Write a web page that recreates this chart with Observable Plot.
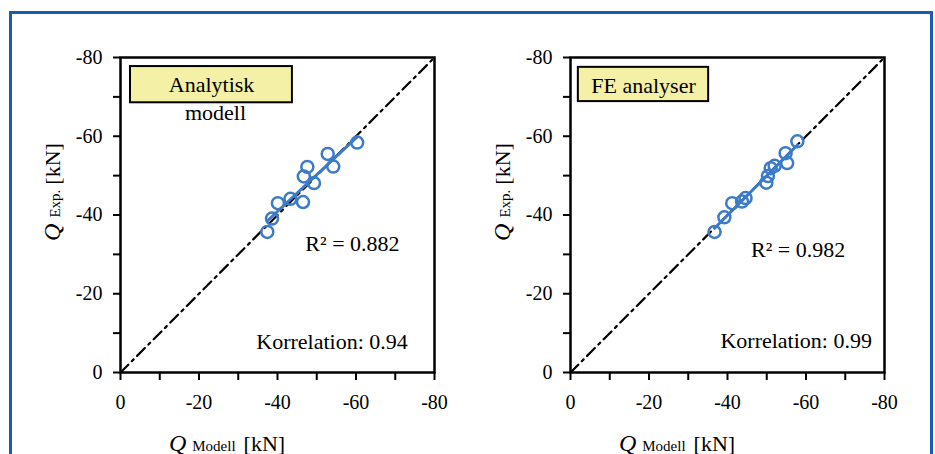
<!DOCTYPE html>
<html>
<head>
<meta charset="utf-8">
<script src="https://cdn.jsdelivr.net/npm/d3@7"></script>
<script src="https://cdn.jsdelivr.net/npm/@observablehq/plot@0.6"></script>
<style>
  html, body { margin: 0; padding: 0; background: #fff; }
  #wrap { position: relative; width: 935px; height: 454px; overflow: hidden; background: #fff; }
  #border { position: absolute; left: 9px; top: 11px; width: 918px; height: 470px; border: 3px solid #1a5cb0; }
  .panel { position: absolute; top: 0; }
  .panel svg text { font-family: "Liberation Serif", "Times New Roman", serif; }
</style>
</head>
<body>
<div id="wrap">
  <div id="border"></div>
  <div class="panel" id="p1" style="left:0px"></div>
  <div class="panel" id="p2" style="left:450px"></div>
</div>
<script>
// ---- data (kN) ----
const modellLeft = [-37.4, -38.6, -40.1, -43.3, -46.5, -46.7, -47.6, -49.3, -52.8, -54.2, -60.3];
const expLeft    = [-35.7, -39.1, -43.0, -44.1, -43.3, -49.8, -52.2, -48.1, -55.5, -52.3, -58.4];
const modellRight = [-36.7, -39.2, -41.2, -43.7, -44.6, -49.9, -50.3, -51.0, -52.0, -54.8, -55.2, -57.8];
const expRight    = [-35.7, -39.4, -43.0, -43.4, -44.3, -48.2, -49.9, -51.9, -52.5, -55.7, -53.2, -58.7];
const axisDomain = [0, -80];
const tickValues = [0, -10, -20, -30, -40, -50, -60, -70, -80];
const labelledTicks = [0, -20, -40, -60, -80];
const titleLeft = "Analytisk", subtitleLeft = "modell", titleRight = "FE analyser";
const r2Left = "R² = 0.882", r2Right = "R² = 0.982";
const corrLeft = "Korrelation: 0.94", corrRight = "Korrelation: 0.99";

const blue = "#3b7bc8";
const serif = '"Liberation Serif", "Times New Roman", serif';
const fmt = d => labelledTicks.includes(d) ? String(d) : "";

function panel(xs, ys, cfg) {
  const data = xs.map((x, i) => ({x, y: ys[i]}));
  const svg = Plot.plot({
    width: 450, height: 454,
    marginLeft: 120, marginRight: 16, marginTop: 57, marginBottom: 82,
    x: {domain: axisDomain},
    y: {domain: axisDomain},
    style: `font-family: ${serif}; font-size: 20px; color: black; background: transparent; overflow: visible;`,
    marks: [
      Plot.axisX({ticks: tickValues, tickFormat: fmt, tickSize: 8, tickPadding: 14, strokeWidth: 2, label: null, fontSize: 20}),
      Plot.axisY({ticks: tickValues, tickFormat: fmt, tickSize: 7, tickPadding: 11, strokeWidth: 2, label: null, fontSize: 20}),
      Plot.line(axisDomain, {x: d => d, y: d => d, stroke: "black", strokeWidth: 2.2, strokeDasharray: "11,5,2.5,5"}),
      Plot.linearRegressionY(data, {x: "x", y: "y", stroke: blue, strokeWidth: 3, ci: 0}),
      Plot.dot(data, {x: "x", y: "y", r: 6, stroke: blue, strokeWidth: 2.5, fill: "none"}),
      Plot.rect([cfg.box], {x1: "x1", x2: "x2", y1: "y1", y2: "y2", fill: "#f4f0a6", stroke: "black", strokeWidth: 2}),
      Plot.text(cfg.centered, {x: "x", y: "y", text: "t", textAnchor: "middle", lineAnchor: "bottom", fontSize: 22, fill: "black"}),
      Plot.text(cfg.left, {x: "x", y: "y", text: "t", textAnchor: "start", lineAnchor: "bottom", fontSize: 22, fill: "black"}),
      Plot.frame({stroke: "black", strokeWidth: 2.5})
    ]
  });
  const s = d3.select(svg);
  // y axis title
  const yt = s.append("text")
    .attr("transform", "translate(60,192) rotate(-90)")
    .attr("text-anchor", "middle")
    .attr("font-family", serif).attr("fill", "black");
  yt.append("tspan").attr("font-style", "italic").attr("font-size", 24).text("Q");
  yt.append("tspan").attr("font-size", 15).attr("dx", 6).text("Exp.");
  yt.append("tspan").attr("font-size", 22).attr("dx", 5).text("[kN]");
  // x axis title
  const xt = s.append("text")
    .attr("x", 227).attr("y", 451)
    .attr("font-family", serif).attr("fill", "black");
  xt.append("tspan").attr("font-style", "italic").attr("font-size", 24).text("Q");
  xt.append("tspan").attr("font-size", 15).attr("dx", 6).text("Modell");
  xt.append("tspan").attr("font-size", 22).attr("dx", 8).text("[kN]");
  return svg;
}

document.getElementById("p1").appendChild(panel(modellLeft, expLeft, {
  box: {x1: -2.55, x2: -43.8, y1: -77.7, y2: -68.5},
  centered: [
    {x: -23.2, y: -71.3, t: titleLeft},
    {x: -24.2, y: -64.2, t: subtitleLeft}
  ],
  left: [
    {x: -47.1, y: -30.8, t: r2Left},
    {x: -34.6, y: -5.9, t: corrLeft}
  ]
}));
document.getElementById("p2").appendChild(panel(modellRight, expRight, {
  box: {x1: -2.0, x2: -35.2, y1: -77.5, y2: -68.8},
  centered: [
    {x: -18.6, y: -71.1, t: titleRight}
  ],
  left: [
    {x: -46.0, y: -29.3, t: r2Right},
    {x: -38.2, y: -6.1, t: corrRight}
  ]
}));
</script>
</body>
</html>
